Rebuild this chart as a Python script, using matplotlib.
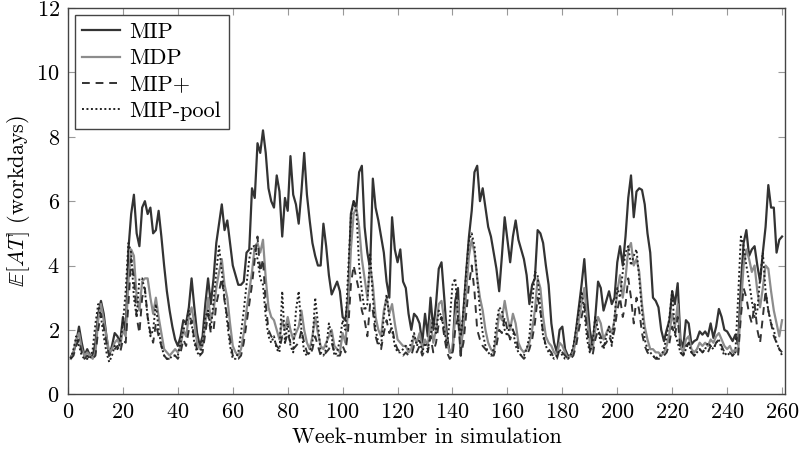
import numpy as np
import matplotlib
matplotlib.use('Agg')
import matplotlib.pyplot as plt

plt.rcParams['font.family'] = 'serif'
plt.rcParams['font.serif'] = ['cmr10', 'DejaVu Serif']
plt.rcParams['mathtext.fontset'] = 'cm'
plt.rcParams['axes.formatter.use_mathtext'] = True
plt.rcParams['font.size'] = 16

weeks = np.arange(1, 261)

# expected access time per week (workdays)
mip = [
    1.15, 1.3, 1.6, 2.1, 1.6, 1.2, 1.4, 1.2, 1.2, 1.6,
    2.5, 2.9, 2.5, 1.8, 1.2, 1.5, 1.9, 1.8, 1.6, 2.4,
    1.9, 4.5, 5.6, 6.2, 5.0, 4.6, 5.8, 6.0, 5.6, 5.8,
    5.0, 5.1, 5.7, 4.9, 4.0, 3.2, 2.6, 2.1, 1.7, 1.5,
    1.8, 2.3, 2.2, 2.7, 3.6, 2.7, 1.9, 1.5, 1.8, 2.8,
    3.6, 2.8, 3.6, 4.7, 5.3, 5.9, 5.1, 5.4, 4.7, 4.0,
    3.7, 3.4, 3.4, 3.5, 4.4, 4.5, 6.4, 6.1, 7.8, 7.5,
    8.2, 7.5, 6.4, 6.0, 5.8, 6.8, 6.3, 4.9, 6.1, 5.7,
    7.4, 6.2, 5.9, 5.3, 6.3, 7.5, 6.2, 5.4, 4.7, 4.3,
    4.0, 4.0, 5.3, 4.6, 3.7, 3.1, 3.3, 3.5, 3.2, 2.4,
    2.3, 3.0, 5.6, 6.0, 5.8, 6.9, 7.1, 5.2, 4.4, 3.9,
    6.7, 5.8, 5.4, 4.9, 4.4, 3.5, 3.0, 5.5, 4.5, 4.1,
    4.5, 3.5, 3.3, 2.5, 2.0, 2.5, 2.4, 2.2, 1.6, 2.5,
    1.8, 3.0, 2.0, 2.8, 3.9, 4.1, 3.0, 1.8, 1.3, 1.3,
    2.9, 3.3, 1.2, 2.6, 3.8, 4.9, 5.7, 6.9, 7.1, 6.0,
    6.4, 5.8, 5.2, 4.9, 4.4, 3.9, 3.2, 4.3, 5.5, 4.8,
    4.1, 4.9, 5.4, 4.8, 4.5, 4.2, 3.7, 2.8, 3.4, 3.6,
    5.1, 5.0, 4.7, 4.0, 3.4, 2.2, 1.6, 1.3, 2.0, 2.1,
    1.4, 1.2, 1.2, 1.4, 2.0, 2.7, 3.4, 4.2, 3.0, 2.0,
    1.5, 2.4, 3.5, 3.3, 2.6, 2.9, 3.2, 2.8, 3.0, 4.1,
    4.6, 4.0, 4.9, 6.1, 6.8, 5.5, 6.3, 6.4, 6.35, 5.9,
    5.0, 4.4, 3.0, 2.9, 2.7, 2.0, 1.65, 2.0, 2.3, 3.2,
    2.8, 3.45, 1.7, 1.45, 2.3, 2.2, 1.55, 1.65, 1.7, 1.95,
    1.85, 1.95, 1.8, 2.2, 1.75, 2.1, 2.65, 2.4, 2.0, 1.95,
    1.8, 1.65, 1.85, 1.55, 3.4, 4.7, 5.1, 4.3, 4.5, 4.6,
    4.0, 3.5, 4.4, 5.2, 6.5, 5.8, 5.8, 4.4, 4.8, 4.9,
]

mdp = [
    1.1, 1.3, 1.7, 1.9, 1.4, 1.2, 1.3, 1.2, 1.1, 1.3,
    2.3, 2.8, 2.3, 1.8, 1.3, 1.4, 1.6, 1.7, 1.5, 2.0,
    1.8, 3.5, 4.5, 4.3, 3.0, 2.6, 3.5, 3.6, 3.6, 3.0,
    2.5, 3.0, 2.4, 1.9, 1.4, 1.3, 1.2, 1.3, 1.4, 1.3,
    1.5, 2.0, 1.8, 2.4, 2.7, 2.2, 1.6, 1.4, 1.5, 2.2,
    3.0, 2.3, 2.6, 3.3, 3.8, 4.2, 3.4, 3.0, 2.2, 1.5,
    1.3, 1.2, 1.4, 1.9, 2.6, 3.2, 3.8, 4.6, 4.7, 4.4,
    4.8, 3.6, 2.7, 2.4, 2.3, 2.0, 1.7, 2.3, 2.0, 2.4,
    2.0, 1.7, 1.9, 2.1, 2.6, 2.0, 1.6, 1.4, 1.8, 2.4,
    1.9, 1.5, 1.4, 1.6, 1.8, 2.0, 1.5, 1.4, 1.3, 1.9,
    1.6, 2.6, 4.5, 5.6, 5.8, 5.2, 4.2, 3.6, 3.0, 4.0,
    3.4, 2.4, 2.0, 1.8, 2.6, 3.0, 2.5, 2.8, 2.2, 1.7,
    1.6, 1.5, 1.5, 1.3, 1.4, 1.8, 1.6, 1.9, 1.4, 1.7,
    1.5, 2.3, 1.6, 2.0, 2.8, 2.9, 2.3, 1.6, 1.3, 1.4,
    2.4, 2.9, 1.5, 2.0, 3.2, 4.3, 4.8, 4.4, 3.6, 3.0,
    2.6, 2.0, 1.6, 1.4, 1.3, 1.8, 2.5, 2.3, 2.9, 2.4,
    2.0, 2.5, 2.2, 1.6, 1.4, 1.3, 1.4, 1.6, 2.0, 2.6,
    3.6, 3.3, 2.4, 1.8, 1.6, 1.5, 1.3, 1.2, 1.6, 1.5,
    1.3, 1.1, 1.2, 1.3, 1.7, 2.3, 2.8, 3.3, 2.4, 1.6,
    1.4, 2.0, 2.4, 2.2, 1.7, 1.9, 2.1, 1.9, 2.3, 3.2,
    3.7, 3.0, 3.6, 4.5, 4.7, 4.0, 4.2, 3.8, 2.8, 2.1,
    1.7, 1.4, 1.4, 1.3, 1.3, 1.2, 1.3, 1.5, 1.9, 2.5,
    2.1, 2.8, 1.5, 1.3, 1.7, 1.8, 1.4, 1.3, 1.4, 1.6,
    1.5, 1.6, 1.5, 1.7, 1.6, 1.8, 1.9, 1.7, 1.5, 1.4,
    1.5, 1.3, 1.4, 1.3, 2.7, 4.0, 4.5, 4.2, 3.8, 4.0,
    3.2, 2.7, 3.3, 4.0, 3.9, 3.2, 2.6, 2.2, 1.8, 2.3,
]

mip_plus = [
    1.1, 1.2, 1.5, 1.7, 1.3, 1.1, 1.2, 1.1, 1.1, 1.2,
    2.0, 2.5, 2.1, 1.6, 1.2, 1.3, 1.4, 1.5, 1.3, 1.7,
    1.6, 2.8, 4.2, 3.6, 2.4, 1.9, 3.0, 3.3, 2.4, 1.9,
    1.6, 2.2, 1.8, 1.5, 1.2, 1.1, 1.1, 1.2, 1.2, 1.1,
    1.3, 1.7, 1.5, 2.0, 2.3, 1.7, 1.4, 1.2, 1.3, 1.9,
    2.5, 1.9, 2.0, 2.8, 3.2, 3.6, 2.9, 2.4, 1.7, 1.2,
    1.1, 1.1, 1.2, 1.6, 2.2, 2.8, 3.4, 4.2, 4.9, 3.8,
    4.2, 2.8, 2.0, 1.8, 1.7, 1.5, 1.4, 1.8, 1.6, 1.9,
    1.6, 1.4, 1.5, 1.6, 2.0, 1.6, 1.3, 1.2, 1.4, 1.8,
    1.5, 1.2, 1.2, 1.3, 1.4, 1.6, 1.3, 1.2, 1.2, 1.5,
    1.3, 2.0, 3.4, 4.0, 3.6, 3.2, 2.6, 2.3, 1.8, 2.8,
    2.6, 1.8, 1.5, 1.4, 1.9, 2.3, 1.9, 2.1, 1.6, 1.4,
    1.3, 1.2, 1.3, 1.2, 1.2, 1.5, 1.3, 1.5, 1.2, 1.4,
    1.3, 1.8, 1.3, 1.6, 2.2, 2.4, 1.8, 1.3, 1.1, 1.2,
    2.0, 2.4, 1.2, 1.6, 2.5, 3.4, 4.0, 3.2, 2.0, 1.7,
    1.5, 1.4, 1.3, 1.2, 1.2, 1.5, 2.0, 1.9, 2.4, 2.0,
    1.7, 2.0, 1.8, 1.4, 1.2, 1.1, 1.2, 1.4, 1.7, 2.2,
    3.0, 2.6, 1.9, 1.5, 1.4, 1.3, 1.1, 1.1, 1.4, 1.3,
    1.2, 1.1, 1.1, 1.2, 1.5, 2.0, 2.4, 2.8, 2.0, 1.4,
    1.2, 1.7, 2.0, 1.8, 1.5, 1.6, 1.8, 1.6, 2.0, 2.6,
    3.0, 2.4, 2.8, 3.6, 3.0, 2.2, 3.0, 2.6, 1.9, 1.5,
    1.3, 1.2, 1.2, 1.1, 1.1, 1.1, 1.2, 1.3, 1.6, 2.1,
    1.8, 2.4, 1.3, 1.2, 1.5, 1.6, 1.3, 1.2, 1.3, 1.4,
    1.3, 1.4, 1.3, 1.5, 1.4, 1.6, 1.7, 1.5, 1.3, 1.3,
    1.3, 1.2, 1.3, 1.2, 2.4, 3.3, 3.0, 2.5, 2.2, 2.8,
    2.0, 1.6, 2.4, 3.2, 2.6, 2.2, 1.8, 1.6, 1.4, 1.3,
]

mip_pool = [
    1.1, 1.4, 1.8, 1.5, 1.2, 1.1, 1.1, 1.1, 1.4, 2.2,
    2.8, 2.4, 1.8, 1.3, 1.0, 1.2, 1.5, 1.4, 1.6, 2.2,
    3.2, 4.7, 4.4, 3.0, 2.4, 3.6, 3.6, 3.2, 2.4, 1.8,
    2.0, 2.8, 2.0, 1.5, 1.2, 1.1, 1.1, 1.2, 1.2, 1.2,
    1.6, 2.0, 2.2, 2.6, 2.2, 1.6, 1.3, 1.2, 1.6, 2.4,
    2.6, 2.0, 2.9, 3.8, 4.6, 3.8, 3.0, 2.2, 1.5, 1.1,
    1.1, 1.3, 1.9, 2.6, 3.4, 4.2, 4.6, 4.6, 4.2, 3.6,
    3.4, 2.4, 1.8, 1.6, 1.8, 1.4, 1.3, 3.2, 1.6, 2.2,
    1.5, 1.3, 2.6, 3.2, 2.0, 1.3, 1.2, 1.3, 1.6, 3.0,
    2.2, 1.3, 1.2, 1.4, 2.2, 1.8, 1.2, 1.3, 1.7, 2.3,
    2.0, 3.8, 5.5, 6.0, 5.7, 4.0, 3.2, 2.6, 2.8, 4.4,
    3.0, 2.0, 1.6, 1.5, 2.4, 3.1, 2.4, 2.0, 1.5, 1.3,
    1.3, 1.4, 1.5, 1.4, 1.6, 1.9, 1.5, 1.7, 1.3, 1.6,
    1.4, 1.8, 2.4, 1.9, 2.6, 2.4, 2.0, 1.5, 2.3, 3.4,
    3.6, 2.4, 1.8, 2.6, 3.8, 4.8, 5.0, 4.6, 3.6, 2.6,
    1.9, 1.5, 1.3, 1.2, 1.4, 2.2, 2.7, 2.6, 2.0, 1.8,
    2.2, 2.0, 1.5, 1.3, 1.2, 1.2, 1.4, 1.8, 2.8, 3.8,
    3.7, 2.6, 1.8, 1.5, 1.3, 1.2, 1.1, 1.2, 1.4, 1.2,
    1.1, 1.1, 1.2, 1.5, 2.0, 2.6, 3.2, 2.6, 1.7, 1.3,
    1.6, 2.4, 2.0, 1.6, 1.4, 1.8, 2.1, 1.5, 2.4, 3.3,
    3.0, 3.8, 4.4, 4.6, 4.0, 4.3, 4.5, 3.6, 2.6, 1.7,
    1.4, 1.3, 1.2, 1.1, 1.2, 1.2, 1.4, 1.8, 2.4, 3.2,
    1.9, 1.6, 1.3, 1.2, 1.4, 1.6, 1.3, 1.2, 1.3, 1.4,
    1.3, 1.4, 1.6, 1.5, 1.4, 1.6, 1.7, 1.4, 1.2, 1.3,
    1.2, 1.2, 1.3, 3.0, 4.9, 4.6, 4.0, 3.5, 2.9, 2.4,
    2.6, 3.6, 4.4, 3.2, 2.6, 2.2, 2.0, 1.6, 1.4, 1.2,
]

fig = plt.figure(figsize=(8, 4.5), dpi=100)
ax = fig.add_axes([0.085, 0.124, 0.896, 0.858])

ax.plot(weeks, mip, color='#333333', lw=1.6, label='MIP')
ax.plot(weeks, mdp, color='#8c8c8c', lw=1.6, label='MDP')
ax.plot(weeks, mip_plus, color='#333333', lw=1.4, ls=(0, (4, 3)), label='MIP+')
ax.plot(weeks, mip_pool, color='#222222', lw=1.4, ls=(0, (1, 1.3)), label='MIP-pool')

ax.set_xlim(0, 261)
ax.set_ylim(0, 12)
ax.set_xticks(np.arange(0, 261, 20))
ax.set_yticks(np.arange(0, 13, 2))
ax.tick_params(direction='in', top=True, right=True, length=5, color='#999999',
               width=0.8, pad=6)
for s in ax.spines.values():
    s.set_color('#444444')
    s.set_linewidth(1.0)

ax.set_xlabel('Week-number in simulation', labelpad=4)
ax.set_ylabel(r'$\mathbb{E}[AT]$ (workdays)', labelpad=3)

leg = ax.legend(loc='upper left', fancybox=False, edgecolor='#444444', framealpha=1,
                handlelength=1.7, borderaxespad=0.3, labelspacing=0.3,
                handletextpad=0.4, borderpad=0.35)
leg.get_frame().set_linewidth(1.0)

fig.savefig('out.png', dpi=100)
